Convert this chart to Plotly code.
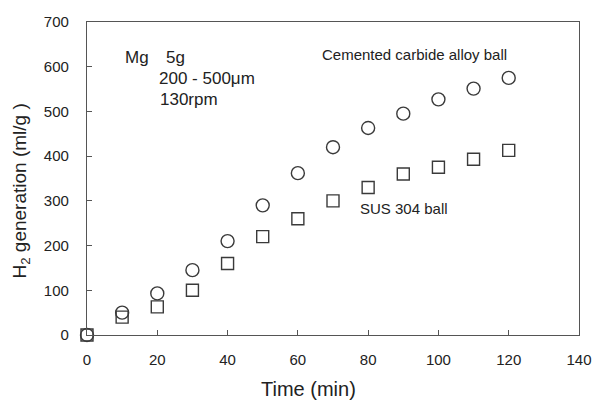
import plotly.graph_objects as go

time_min = [0, 10, 20, 30, 40, 50, 60, 70, 80, 90, 100, 110, 120]
carbide_ball = [0, 50, 93, 145, 210, 290, 362, 420, 463, 495, 527, 551, 575]
sus304_ball = [0, 40, 63, 100, 160, 220, 260, 300, 330, 360, 375, 393, 413]
x_ticks = [0, 20, 40, 60, 80, 100, 120, 140]
y_ticks = [0, 100, 200, 300, 400, 500, 600, 700]

ink = "#3a3a3a"
font = "Liberation Sans, Arial, sans-serif"

fig = go.Figure()
fig.add_trace(go.Scatter(x=time_min, y=carbide_ball, mode="markers",
                         marker=dict(symbol="circle-open", size=13, color=ink, line=dict(width=1.4, color=ink)),
                         showlegend=False))
fig.add_trace(go.Scatter(x=time_min, y=sus304_ball, mode="markers",
                         marker=dict(symbol="square-open", size=12, color=ink, line=dict(width=1.4, color=ink)),
                         showlegend=False))

ann_style = dict(xref="x", yref="y", showarrow=False, xanchor="left", yanchor="middle",
                 font=dict(family=font, size=17, color="#222"))
fig.add_annotation(x=10.3, y=620, text="Mg", **ann_style)
fig.add_annotation(x=22.0, y=620, text="5g", **ann_style)
fig.add_annotation(x=19.8, y=573, text="200 - 500μm", **ann_style)
fig.add_annotation(x=20.3, y=526, text="130rpm", **ann_style)
small = dict(ann_style)
small["font"] = dict(family=font, size=15, color="#222")
fig.add_annotation(x=66.3, y=628, text="Cemented carbide alloy ball", **small)
fig.add_annotation(x=77.2, y=284, text="SUS 304 ball", **small)

# axis titles
fig.add_annotation(xref="paper", yref="paper", x=0.451, y=-0.171, showarrow=False,
                   xanchor="center", yanchor="middle", text="Time (min)",
                   font=dict(family=font, size=20, color="#222"))
fig.add_annotation(xref="paper", yref="paper", x=-0.135, y=0.46, showarrow=False,
                   xanchor="center", yanchor="middle", textangle=-90,
                   text="H<sub>2</sub> generation (ml/g )",
                   font=dict(family=font, size=19, color="#222"))

axis_common = dict(showline=True, linecolor="#555", linewidth=1.3, mirror=True,
                   ticks="inside", ticklen=5, tickcolor="#555", tickwidth=1.3,
                   showgrid=False, zeroline=False,
                   tickfont=dict(family=font, size=15, color="#222"))

fig.update_xaxes(range=[0, 140], tickvals=x_ticks, ticklabelstandoff=11, **axis_common)
fig.update_yaxes(range=[0, 700], tickvals=y_ticks, ticklabelstandoff=14, **axis_common)

fig.update_layout(width=604, height=400, margin=dict(l=87, r=14, t=22, b=65),
                  plot_bgcolor="white", paper_bgcolor="white")
fig.update_traces(cliponaxis=False)

fig.write_html("out.html")
